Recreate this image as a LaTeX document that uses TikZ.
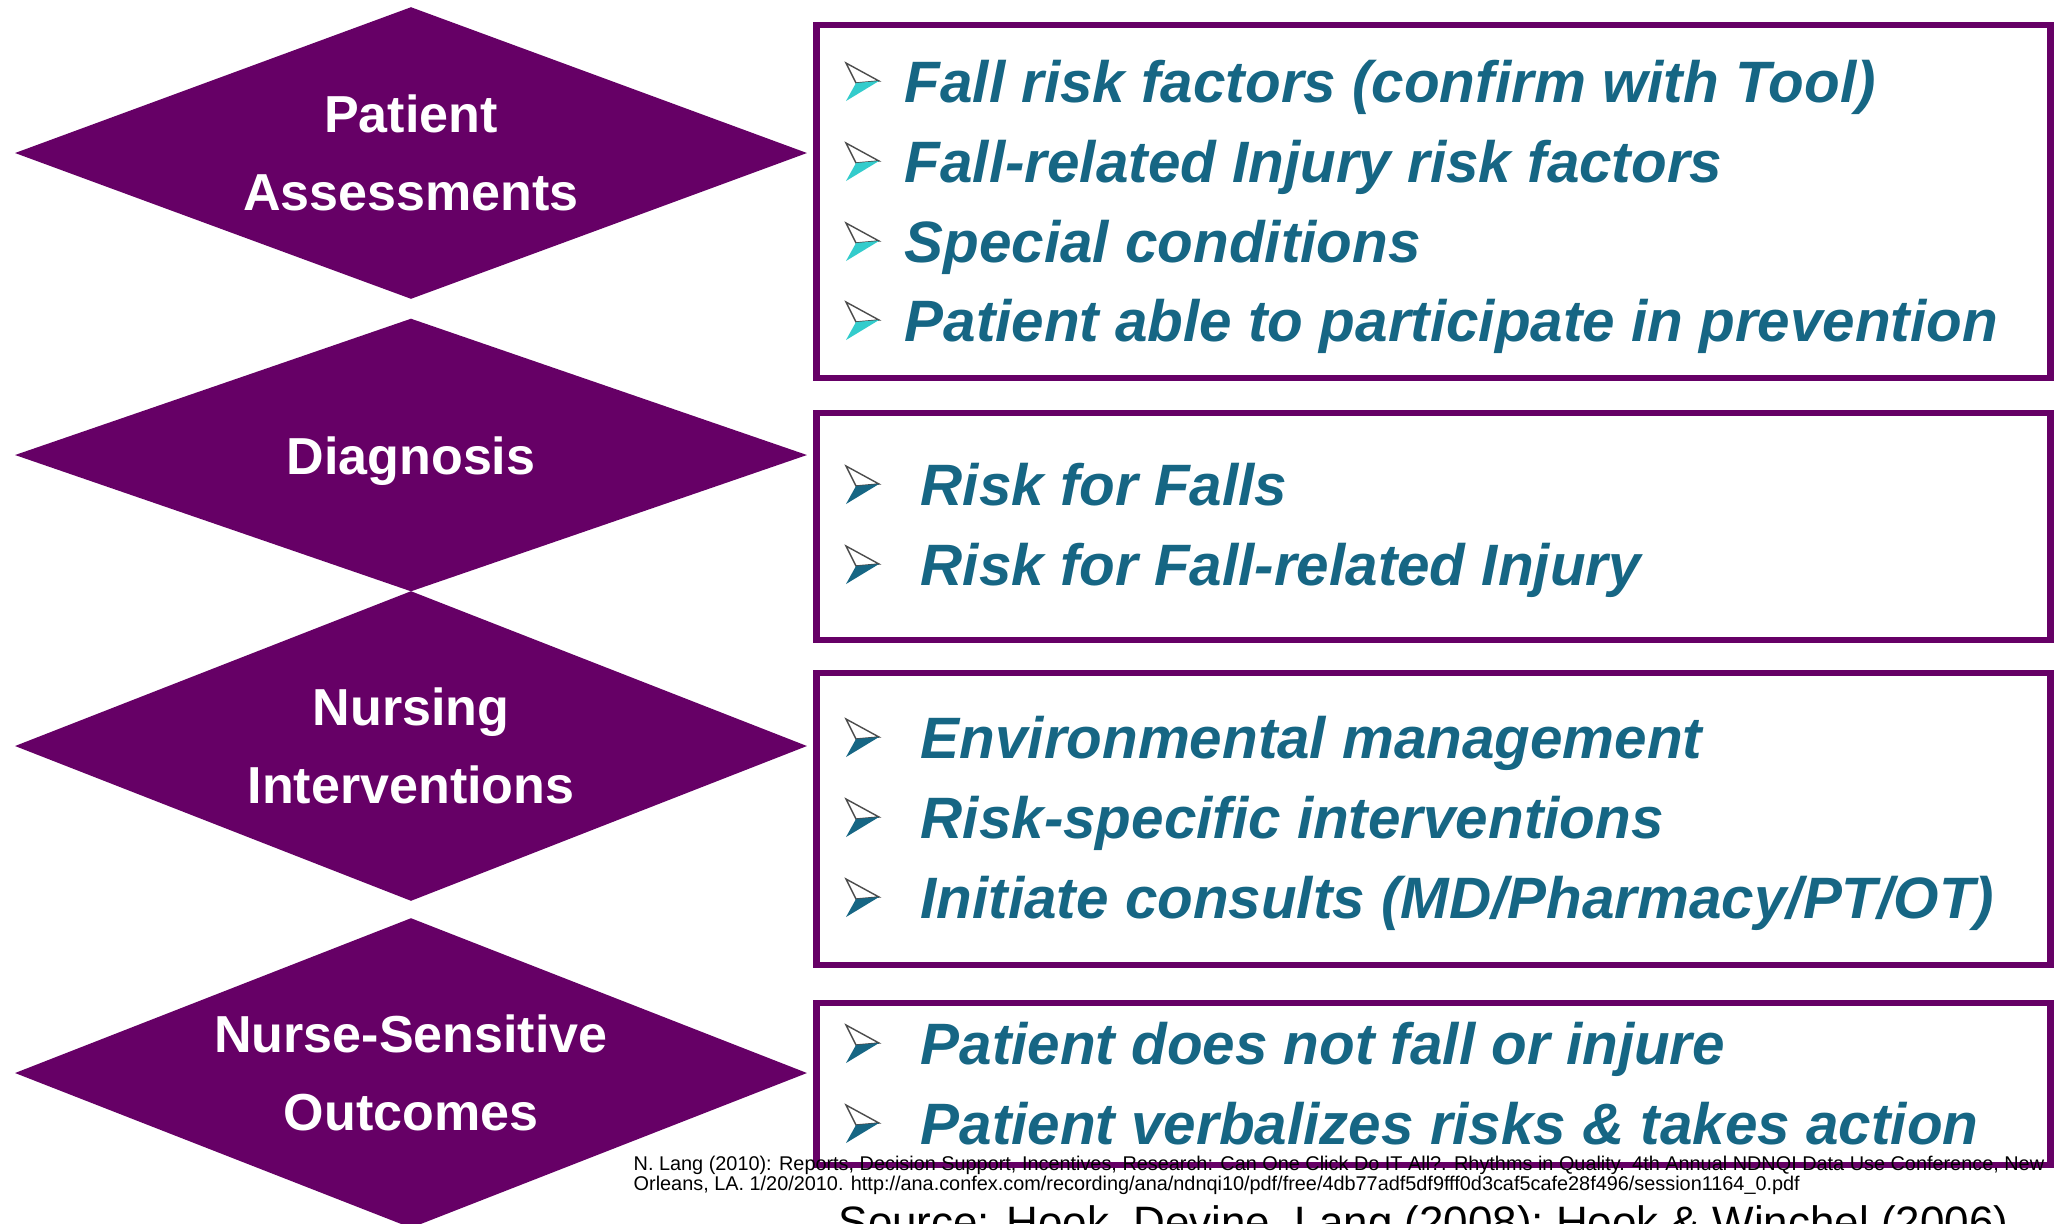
\documentclass[tikz,border=0pt]{standalone}
\usepackage{fontspec}
\setmainfont{Liberation Sans}
\usetikzlibrary{shapes.geometric}

\definecolor{plum}{RGB}{102,0,102}
\definecolor{tealtext}{RGB}{22,102,132}
\definecolor{aqua}{RGB}{51,204,204}

\begin{document}
\begin{tikzpicture}[x=0.01cm, y=-0.01cm,
    % purple diamonds on the left
    dia/.style={diamond, fill=plum, inner sep=0pt, minimum width=7.92cm},
    dialabel/.style={text=white, align=center, font=\fontsize{14.8}{22.2}\selectfont\bfseries},
    % framed boxes on the right
    panel/.style={draw=plum, line width=1.9pt, inner sep=0pt, minimum width=12.33cm},
    entry/.style={anchor=base west, inner sep=0pt, text=tealtext,
        font=\fontsize{16.6}{20}\selectfont\bfseries\itshape},
    % the arrow bullet in front of each entry
    pics/itemarrow/.style={code={
        \draw[line width=0.4pt, gray!60!black, fill=white] (0,0) -- (-33,-18) -- (-23,2) -- cycle;
        \fill[#1] (0,0) -- (-23,2) -- (-33,20) -- cycle;
    }}
]

% Page and white background
\useasboundingbox (0,0) rectangle (2060,1223);
\clip (0,0) rectangle (2060,1223);
\fill[white] (0,0) rectangle (2060,1223);

% Diamonds
\node[dia, minimum height=2.92cm] (d1) at (411,153) {};
\node[dia, minimum height=2.73cm] (d2) at (411,455) {};
\node[dia, minimum height=3.10cm] (d3) at (411,746) {};
\node[dia, minimum height=3.10cm] (d4) at (411,1073) {};

\node[dialabel] (t1) at (d1) {Patient\\Assessments};
\node[dialabel] (t2) at (411,461) {Diagnosis};
\node[dialabel] (t3) at (d3) {Nursing\\Interventions};
\node[dialabel] (t4) at (d4) {Nurse-Sensitive\\Outcomes};

% Boxes
\node[panel, minimum height=3.53cm] (b1) at (1433.5,201.5) {};
\node[panel, minimum height=2.27cm] (b2) at (1433.5,526.5) {};
\node[panel, minimum height=2.92cm] (b3) at (1433.5,819) {};
\node[panel, minimum height=1.62cm] (b4) at (1433.5,1084) {};

% Assessment items
\pic at (879,81) {itemarrow=aqua};
\node[entry] (a1) at (904,102) {Fall risk factors (confirm with Tool)};
\pic at (879,161) {itemarrow=aqua};
\node[entry] (a2) at (904,182) {Fall-related Injury risk factors};
\pic at (879,241) {itemarrow=aqua};
\node[entry] (a3) at (904,262) {Special conditions};
\pic at (879,320) {itemarrow=aqua};
\node[entry] (a4) at (904,341) {Patient able to participate in prevention};

% Diagnosis items
\pic at (879,484) {itemarrow=tealtext};
\node[entry] (g1) at (920,505) {Risk for Falls};
\pic at (879,564) {itemarrow=tealtext};
\node[entry] (g2) at (920,585) {Risk for Fall-related Injury};

% Intervention items
\pic at (879,737) {itemarrow=tealtext};
\node[entry] (n1) at (920,758) {Environmental management};
\pic at (879,817) {itemarrow=tealtext};
\node[entry] (n2) at (920,838) {Risk-specific interventions};
\pic at (879,897) {itemarrow=tealtext};
\node[entry] (n3) at (920,918) {Initiate consults (MD/Pharmacy/PT/OT)};

% Outcome items
\pic at (879,1043) {itemarrow=tealtext};
\node[entry] (o1) at (920,1064) {Patient does not fall or injure};
\pic at (879,1123) {itemarrow=tealtext};
\node[entry] (o2) at (920,1144) {Patient verbalizes risks \& takes action};

% Reference and source lines
\node[anchor=base west, inner sep=0pt, align=left, font=\fontsize{5.65}{5.69}\selectfont] (ref) at (633,1190)
    {N. Lang (2010): Reports, Decision Support, Incentives, Research: Can One Click Do IT All?. Rhythms in Quality. 4th Annual NDNQI Data Use Conference, New\\
     Orleans, LA. 1/20/2010. http://ana.confex.com/recording/ana/ndnqi10/pdf/free/4db77adf5df9fff0d3caf5cafe28f496/session1164\_0.pdf};
\node[anchor=base west, inner sep=0pt, font=\fontsize{12.5}{15}\selectfont] (src) at (838,1237)
    {Source: Hook,\ Devine,\ Lang (2008);\ Hook \& Winchel\ (2006)};

\end{tikzpicture}
\end{document}
